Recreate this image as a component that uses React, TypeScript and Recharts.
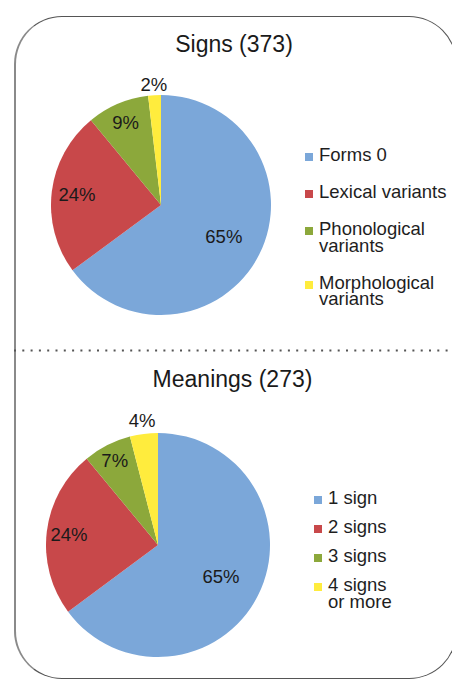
import React from "react";
import { PieChart, Pie, Cell, Legend } from "recharts";

// ---- data ----
const signCategories = ["Forms 0", "Lexical variants", "Phonological variants", "Morphological variants"];
const signCounts = [242, 90, 34, 7];
const signTitle = "Signs (373)";

const meaningCategories = ["1 sign", "2 signs", "3 signs", "4 signs or more"];
const meaningCounts = [177, 66, 19, 11];
const meaningTitle = "Meanings (273)";

const sliceColors = ["#7BA7D9", "#C8484A", "#8CA83B", "#FFEC3D"];

// ---- style config (label distance from centre as fraction of radius) ----
const signLabelRadius = [0.64, 0.77, 0.82, 1.1];
const meaningLabelRadius = [0.63, 0.8, 0.85, 1.12];

const FONT = '"Liberation Sans", Arial, sans-serif';
const RAD = Math.PI / 180;

const signData = signCategories.map((name, i) => ({ name, value: signCounts[i] }));
const meaningData = meaningCategories.map((name, i) => ({ name, value: meaningCounts[i] }));

const makeLabel = (factors: number[]) => (props: any) => {
  const { cx, cy, midAngle, outerRadius, percent, index } = props;
  const r = outerRadius * factors[index];
  const x = cx + r * Math.cos(-midAngle * RAD);
  const y = cy + r * Math.sin(-midAngle * RAD);
  return (
    <text
      x={x}
      y={y}
      textAnchor="middle"
      dominantBaseline="central"
      fill="#1a1a1a"
      style={{ fontFamily: FONT, fontSize: 18.5 }}
    >
      {`${Math.round(percent * 100)}%`}
    </text>
  );
};

const makeLegend = (categories: string[], textWidth: number, gap: number) => (props: any) => {
  const payload = [...(props.payload || [])].sort(
    (a: any, b: any) => categories.indexOf(a.value) - categories.indexOf(b.value)
  );
  return (
    <div style={{ fontFamily: FONT, fontSize: 18.5, color: "#1e1e1e" }}>
      {payload.map((e: any, i: number) => {
        const idx = categories.indexOf(e.value);
        return (
          <div
            key={e.value}
            style={{ display: "flex", alignItems: "flex-start", marginTop: i ? gap : 0 }}
          >
            <span
              style={{
                display: "inline-block",
                width: 8,
                height: 8,
                background: sliceColors[idx],
                marginTop: 6,
                marginRight: 6,
                flex: "none",
              }}
            />
            <span style={{ width: textWidth, lineHeight: "16.5px", display: "block" }}>{e.value}</span>
          </div>
        );
      })}
    </div>
  );
};

export default function App() {
  return (
    <div
      style={{
        position: "absolute",
        left: 0,
        top: 0,
        width: 452,
        height: 680,
        overflow: "hidden",
        background: "#fff",
        fontFamily: FONT,
      }}
    >
      {/* rounded frame */}
      <div
        style={{
          position: "absolute",
          left: 14,
          top: 16,
          width: 443,
          height: 663,
          boxSizing: "border-box",
          border: "1px solid #555",
          borderLeft: "2px solid #8a8a8a",
          borderRadius: 48,
        }}
      />
      {/* dotted separator */}
      <svg style={{ position: "absolute", left: 0, top: 349 }} width={452} height={3}>
        <line x1={14} y1={1.5} x2={452} y2={1.5} stroke="#555" strokeWidth={2} strokeDasharray="2 6.3" />
      </svg>

      {/* titles */}
      <div
        style={{
          position: "absolute",
          left: 0,
          top: 33.2,
          width: 468,
          textAlign: "center",
          fontSize: 23,
          lineHeight: "23px",
          color: "#1a1a1a",
        }}
      >
        {signTitle}
      </div>
      <div
        style={{
          position: "absolute",
          left: 0,
          top: 367.8,
          width: 465,
          textAlign: "center",
          fontSize: 23,
          lineHeight: "23px",
          color: "#1a1a1a",
        }}
      >
        {meaningTitle}
      </div>

      {/* chart 1 */}
      <div style={{ position: "absolute", left: 0, top: 0 }}>
        <PieChart width={452} height={350} margin={{ top: 0, right: 0, bottom: 0, left: 0 }}>
          <Pie
            data={signData}
            dataKey="value"
            nameKey="name"
            cx={161}
            cy={205}
            outerRadius={110}
            startAngle={90}
            endAngle={-270}
            stroke="none"
            label={makeLabel(signLabelRadius)}
            labelLine={false}
            isAnimationActive={false}
          >
            {signData.map((d, i) => (
              <Cell key={d.name} fill={sliceColors[i]} />
            ))}
          </Pie>
          <Legend
            content={makeLegend(signCategories, 134, 20.5)}
            wrapperStyle={{ position: "absolute", left: 305, top: 147.4, width: 150 }}
          />
        </PieChart>
      </div>

      {/* chart 2 */}
      <div style={{ position: "absolute", left: 0, top: 350 }}>
        <PieChart width={452} height={330} margin={{ top: 0, right: 0, bottom: 0, left: 0 }}>
          <Pie
            data={meaningData}
            dataKey="value"
            nameKey="name"
            cx={158}
            cy={195}
            outerRadius={112}
            startAngle={90}
            endAngle={-270}
            stroke="none"
            label={makeLabel(meaningLabelRadius)}
            labelLine={false}
            isAnimationActive={false}
          >
            {meaningData.map((d, i) => (
              <Cell key={d.name} fill={sliceColors[i]} />
            ))}
          </Pie>
          <Legend
            content={makeLegend(meaningCategories, 70, 12.5)}
            wrapperStyle={{ position: "absolute", left: 314, top: 140.4, width: 130 }}
          />
        </PieChart>
      </div>
    </div>
  );
}
